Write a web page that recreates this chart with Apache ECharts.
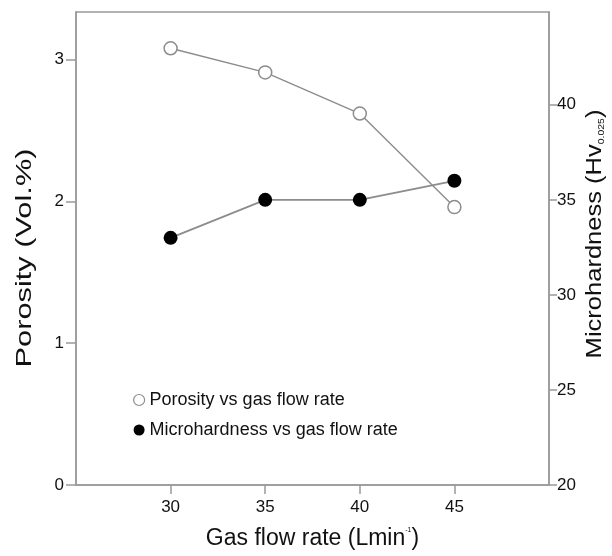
<html>
<head>
<meta charset="utf-8">
<script src="https://cdn.jsdelivr.net/npm/echarts@6/dist/echarts.min.js"></script>
<style>
  html, body, #main { width: 100%; height: 100%; margin: 0; background: #fff; }
</style>
</head>
<body>
<div id="main"></div>
<script>
// gas flow rate (L/min)
var flowRate = [30, 35, 40, 45];
// porosity (vol.%)
var porosity = [3.08, 2.91, 2.62, 1.96];
// microhardness (Hv0.025)
var hardness = [33, 35, 35, 36];

var xTicks = [30, 35, 40, 45];
var leftTicks = [0, 1, 2, 3];
var rightTicks = [20, 25, 30, 35, 40];

var FONT = 'Liberation Sans';
var AXIS_COLOR = '#999';
var LINE_COLOR = '#8c8c8c';

var chart = echarts.init(document.getElementById('main'));

function pairs(xs, ys) {
    return xs.map(function (x, i) { return [x, ys[i]]; });
}

var option = {
    backgroundColor: '#fff',
    animation: false,
    textStyle: { fontFamily: FONT },
    grid: {
        left: 76, right: 63, top: 12, bottom: 71,
        show: true,
        borderColor: AXIS_COLOR,
        borderWidth: 1.5
    },
    // the picture is stretched vertically, so the rotated titles are drawn
    // as text elements that can be stretched along their length
    graphic: [{
        type: 'text',
        x: 25, y: 258,
        rotation: Math.PI / 2,
        scaleX: 1.4,
        style: {
            text: 'Porosity (Vol.%)',
            font: '22px ' + FONT,
            fill: '#111',
            align: 'center',
            verticalAlign: 'middle'
        }
    }, {
        type: 'text',
        x: 595, y: 234,
        rotation: Math.PI / 2,
        scaleX: 1.16,
        style: {
            text: 'Microhardness (Hv{sub|0.025})',
            font: '22px ' + FONT,
            fill: '#111',
            align: 'center',
            verticalAlign: 'middle',
            rich: {
                sub: { fontSize: 9, fontFamily: FONT, fill: '#111', verticalAlign: 'bottom', padding: [11, 0, 0, 0] }
            }
        }
    }],
    legend: {
        orient: 'vertical',
        left: 128,
        top: 386,
        itemGap: 12,
        itemWidth: 11,
        itemHeight: 11,
        textStyle: { fontFamily: FONT, fontSize: 18, color: '#111' },
        data: [
            { name: 'Porosity vs gas flow rate', icon: 'circle',
              itemStyle: { color: '#fff', borderColor: LINE_COLOR, borderWidth: 1.2 } },
            { name: 'Microhardness vs gas flow rate', icon: 'circle',
              itemStyle: { color: '#000', borderWidth: 0 } }
        ]
    },
    xAxis: {
        type: 'value',
        min: 25, max: 50, interval: 5,
        name: 'Gas flow rate (Lmin{sup|-1})',
        nameLocation: 'middle',
        nameGap: 42,
        nameTextStyle: {
            fontFamily: FONT, fontSize: 23, color: '#111',
            rich: { sup: { fontSize: 7, verticalAlign: 'top', padding: [0, 0, 13, 0], color: '#111' } }
        },
        axisLine: { lineStyle: { color: AXIS_COLOR, width: 1.5 } },
        axisTick: { customValues: xTicks, length: 9, lineStyle: { color: AXIS_COLOR, width: 1.5 } },
        axisLabel: { customValues: xTicks, margin: 14, fontSize: 17, color: '#111', fontFamily: FONT },
        splitLine: { show: false }
    },
    yAxis: [{
        type: 'value',
        min: 0, max: 3.336, interval: 1,
        axisLine: { lineStyle: { color: AXIS_COLOR, width: 1.5 } },
        axisTick: { customValues: leftTicks, length: 10, lineStyle: { color: AXIS_COLOR, width: 1.5 } },
        axisLabel: { customValues: leftTicks, margin: 12, fontSize: 17, color: '#111', fontFamily: FONT },
        splitLine: { show: false }
    }, {
        type: 'value',
        position: 'right',
        min: 20, max: 44.88, interval: 5,
        axisLine: { lineStyle: { color: AXIS_COLOR, width: 1.5 } },
        axisTick: { customValues: rightTicks, length: 8, lineStyle: { color: AXIS_COLOR, width: 1.5 } },
        axisLabel: { customValues: rightTicks, margin: 8, fontSize: 17, color: '#111', fontFamily: FONT },
        splitLine: { show: false }
    }],
    series: [{
        name: 'Porosity vs gas flow rate',
        type: 'line',
        yAxisIndex: 0,
        data: pairs(flowRate, porosity),
        symbol: 'circle',
        symbolSize: 13,
        lineStyle: { color: LINE_COLOR, width: 1.4 },
        itemStyle: { color: '#fff', borderColor: LINE_COLOR, borderWidth: 1.5 },
        z: 3
    }, {
        name: 'Microhardness vs gas flow rate',
        type: 'line',
        yAxisIndex: 1,
        data: pairs(flowRate, hardness),
        symbol: 'circle',
        symbolSize: 14,
        lineStyle: { color: LINE_COLOR, width: 1.8 },
        itemStyle: { color: '#000', borderWidth: 0 },
        z: 2
    }]
};

chart.setOption(option);
</script>
</body>
</html>
